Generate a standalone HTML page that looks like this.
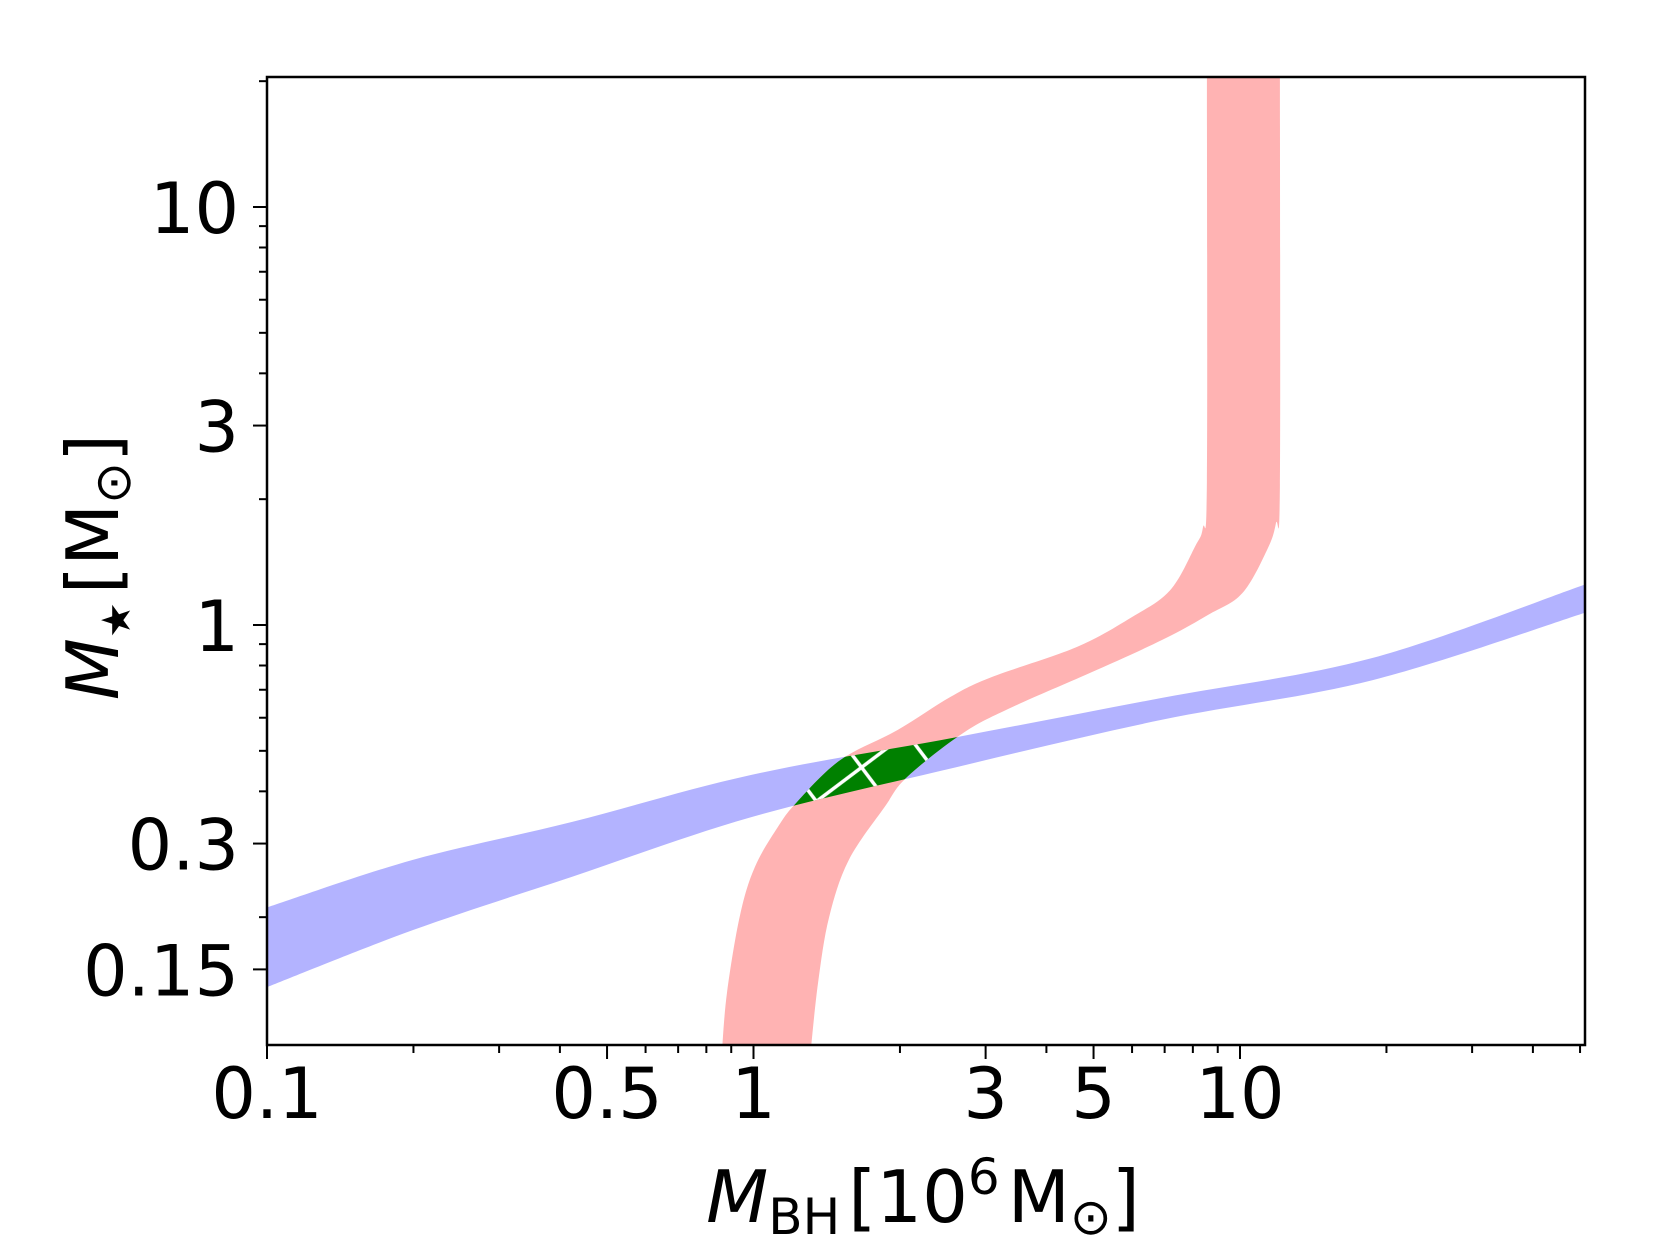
<!DOCTYPE html>
<html><head><meta charset="utf-8">
<style>
html,body{margin:0;padding:0;background:#fff;}
svg{display:block;font-family:"DejaVu Sans","Liberation Sans",sans-serif;}
</style></head>
<body>
<svg id="chart" width="1660" height="1245" viewBox="0 0 1660 1245" xmlns="http://www.w3.org/2000/svg">
<defs>
<clipPath id="plotClip"><rect x="267" y="77" width="1318" height="968"/></clipPath>
<clipPath id="blueClip"><path id="blueClipPath" d=""/></clipPath>
<pattern id="hatch" patternUnits="userSpaceOnUse" width="80" height="80" patternTransform="rotate(8)">
<path d="M0,0 L80,80 M80,0 L0,80" stroke="#fff" stroke-width="3.5"/>
</pattern>
</defs>
<g id="plot" clip-path="url(#plotClip)"></g>
<rect x="267" y="77" width="1318" height="968" fill="none" stroke="#000" stroke-width="2.5"/>
<g id="ticks"></g>
<text x="923" y="1222" font-size="72" text-anchor="middle"><tspan font-style="italic">M</tspan><tspan font-size="50" dy="12">BH</tspan><tspan dy="-12" dx="8">[10</tspan><tspan font-size="50" dy="-28">6</tspan><tspan dy="28" dx="8">M</tspan><tspan font-size="50" dy="12">⊙</tspan><tspan dy="-12">]</tspan></text>
<text transform="translate(118,567) rotate(-90)" font-size="72" text-anchor="middle"><tspan font-style="italic">M</tspan><tspan font-size="40" dy="12">★</tspan><tspan dy="-12" dx="8">[M</tspan><tspan font-size="50" dy="12">⊙</tspan><tspan dy="-12">]</tspan></text>
</svg>
<script>
// Blue band: stellar mass range vs black hole mass
const blueX = [0.1, 0.199, 0.424, 0.99, 2.61, 6.89, 18.7, 51.2];
const blueUpper = [0.211, 0.274, 0.338, 0.438, 0.539, 0.669, 0.834, 1.25];
const blueLower = [0.136, 0.186, 0.250, 0.347, 0.457, 0.593, 0.738, 1.07];
// Pink band edges (M_BH, M_star)
const pinkLeftX = [0.861, 0.882, 0.938, 1.007, 1.123, 1.223, 1.507, 1.98, 2.54, 3.09, 4.62, 6.0, 7.18, 8.08, 8.39, 8.55, 8.55];
const pinkLeftY = [0.095, 0.132, 0.202, 0.264, 0.329, 0.375, 0.475, 0.561, 0.673, 0.751, 0.886, 1.045, 1.21, 1.54, 1.71, 2.22, 21];
const pinkRightX = [1.31, 1.357, 1.43, 1.57, 1.86, 2.07, 2.70, 3.41, 4.92, 6.92, 8.6, 10.1, 11.36, 11.85, 12.08, 12.08];
const pinkRightY = [0.095, 0.139, 0.2, 0.274, 0.367, 0.433, 0.552, 0.637, 0.768, 0.921, 1.057, 1.19, 1.51, 1.75, 2.16, 21];
// Ticks
const xMajor = [0.1, 0.5, 1, 3, 5, 10];
const xMajorLabels = ["0.1", "0.5", "1", "3", "5", "10"];
const xMinor = [0.2, 0.3, 0.4, 0.6, 0.7, 0.8, 0.9, 2, 4, 6, 7, 8, 9, 20, 30, 40, 50];
const yMajor = [10, 3, 1, 0.3, 0.15];
const yMajorLabels = ["10", "3", "1", "0.3", "0.15"];
const yMinor = [0.2, 0.4, 0.5, 0.6, 0.7, 0.8, 0.9, 2, 4, 5, 6, 7, 8, 9, 20];

function sx(v){ return 267 + (Math.log10(v) + 1) * 486.5; }
function sy(v){ return 625 - Math.log10(v) * 418; }
const X0 = 267, X1 = 1585, Y0 = 77, Y1 = 1045;
const NS = "http://www.w3.org/2000/svg";
const plot = document.getElementById('plot');
const ticks = document.getElementById('ticks');

function smooth(pts, first){
  let d = (first ? 'M' : 'L') + pts[0][0].toFixed(1) + ',' + pts[0][1].toFixed(1);
  for (let i = 0; i < pts.length - 1; i++){
    const p0 = pts[Math.max(0,i-1)], p1 = pts[i], p2 = pts[i+1], p3 = pts[Math.min(pts.length-1,i+2)];
    const c1 = [p1[0] + (p2[0]-p0[0])/6, p1[1] + (p2[1]-p0[1])/6];
    const c2 = [p2[0] - (p3[0]-p1[0])/6, p2[1] - (p3[1]-p1[1])/6];
    d += 'C' + c1[0].toFixed(1) + ',' + c1[1].toFixed(1) + ' ' + c2[0].toFixed(1) + ',' + c2[1].toFixed(1) + ' ' + p2[0].toFixed(1) + ',' + p2[1].toFixed(1);
  }
  return d;
}
const bUp = blueX.map((x,i)=>[sx(x), sy(blueUpper[i])]);
const bLo = blueX.map((x,i)=>[sx(x), sy(blueLower[i])]).reverse();
const bd = smooth(bUp, true) + smooth(bLo, false) + 'Z';
const pL = pinkLeftX.map((x,i)=>[sx(x), sy(pinkLeftY[i])]);
const pR = pinkRightX.map((x,i)=>[sx(x), sy(pinkRightY[i])]).reverse();
const pd = smooth(pL, true) + smooth(pR, false) + 'Z';
document.getElementById('blueClipPath').setAttribute('d', bd);

const blue = document.createElementNS(NS,'path');
blue.setAttribute('d', bd); blue.setAttribute('fill', '#b3b3ff');


plot.appendChild(blue);
const pink = document.createElementNS(NS,'path');
pink.setAttribute('d', pd); pink.setAttribute('fill', '#ffb3b3');


plot.appendChild(pink);
const green = document.createElementNS(NS,'path');
green.setAttribute('d', pd); green.setAttribute('fill', '#008000'); green.setAttribute('clip-path', 'url(#blueClip)');


plot.appendChild(green);
const hatch = document.createElementNS(NS,'path');
hatch.setAttribute('d', pd); hatch.setAttribute('fill', 'url(#hatch)'); hatch.setAttribute('clip-path', 'url(#blueClip)');


plot.appendChild(hatch);

function line(x1,y1,x2,y2,name){
  const l = document.createElementNS(NS,'line');
  l.setAttribute('x1',x1); l.setAttribute('y1',y1); l.setAttribute('x2',x2); l.setAttribute('y2',y2);
  l.setAttribute('stroke','#000'); l.setAttribute('stroke-width','2');
  
  
  ticks.appendChild(l);
}
function label(x,y,t,anchor,name){
  const e = document.createElementNS(NS,'text');
  e.setAttribute('x',x); e.setAttribute('y',y); e.setAttribute('text-anchor',anchor); e.setAttribute('font-size','70');
  e.textContent = t;
  
  
  ticks.appendChild(e);
}
xMajor.forEach((v,i)=>{ const x = sx(v); line(x,Y1,x,Y1+14,'x-major-tick'); label(x,1118,xMajorLabels[i],'middle','x-tick-label'); });
xMinor.forEach(v=>{ const x = sx(v); line(x,Y1,x,Y1+8,'x-minor-tick'); });
yMajor.forEach((v,i)=>{ const y = sy(v); line(X0-14,y,X0,y,'y-major-tick'); label(X0-28,y+26,yMajorLabels[i],'end','y-tick-label'); });
yMinor.forEach(v=>{ const y = sy(v); line(X0-8,y,X0,y,'y-minor-tick'); });
</script>
</body></html>
